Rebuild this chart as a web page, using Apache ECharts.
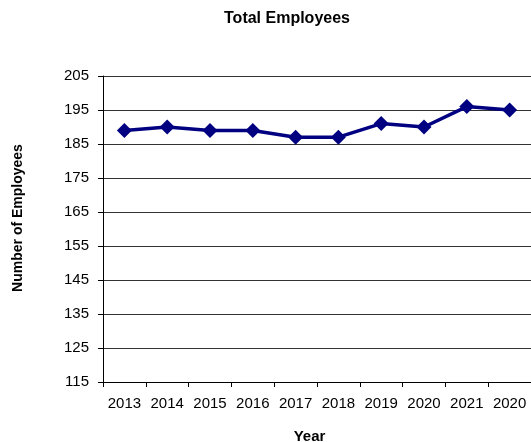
<!DOCTYPE html>
<html>
<head>
<meta charset="utf-8">
<script src="https://cdn.jsdelivr.net/npm/echarts@6/dist/echarts.min.js"></script>
<style>
html,body{margin:0;padding:0;background:#fff;}
#chart{width:531px;height:442px;}
</style>
</head>
<body>
<div id="chart"></div>
<script>
var categories = ['2013','2014','2015','2016','2017','2018','2019','2020','2021','2020'];
var employees = [189, 190, 189, 189, 187, 187, 191, 190, 196, 195];
var yMin = 115, yMax = 205, yStep = 10;

var FONT = '"Liberation Sans", Arial, sans-serif';
var chart = echarts.init(document.getElementById('chart'), null, {renderer:'canvas'});
chart.setOption({
  backgroundColor: '#ffffff',
  animation: false,
  grid: {left: 103, top: 76, width: 430, height: 306, containLabel: false},
  graphic: [
    {type:'text', x: 287, y: 18.5, style:{text:'Total Employees', x: 0, y: 0, textAlign:'center', textVerticalAlign:'middle', font:'bold 16px ' + FONT, fill:'#000'}},
    {type:'text', x: 309.5, y: 436.5, style:{text:'Year', x: 0, y: 0, textAlign:'center', textVerticalAlign:'middle', font:'bold 15px ' + FONT, fill:'#000'}},
    {type:'text', x: 18, y: 218, rotation: Math.PI/2, style:{text:'Number of Employees', x: 0, y: 0, textAlign:'center', textVerticalAlign:'middle', font:'bold 14px ' + FONT, fill:'#000'}}
  ],
  xAxis: {
    type: 'category',
    data: categories,
    boundaryGap: true,
    axisLine: {show: true, lineStyle: {color: '#000', width: 1}},
    axisTick: {show: true, interval: 0, length: 5, inside: false, lineStyle: {color: '#000'}},
    axisLabel: {interval: 0, margin: 14, color: '#000', fontSize: 15, fontFamily: FONT},
    splitLine: {show: false}
  },
  yAxis: {
    type: 'value',
    min: yMin, max: yMax, interval: yStep,
    axisLine: {show: true, lineStyle: {color: '#000', width: 1}},
    axisTick: {show: true, length: 5, inside: false, lineStyle: {color: '#000'}},
    axisLabel: {margin: 14, color: '#000', fontSize: 15, fontFamily: FONT},
    splitLine: {show: true, lineStyle: {color: '#333', width: 1}}
  },
  series: [{
    type: 'line',
    data: employees,
    symbol: 'diamond',
    symbolSize: 15,
    lineStyle: {color: '#000080', width: 3.5},
    itemStyle: {color: '#000080'},
    emphasis: {disabled: true}
  }]
});
</script>
</body>
</html>
